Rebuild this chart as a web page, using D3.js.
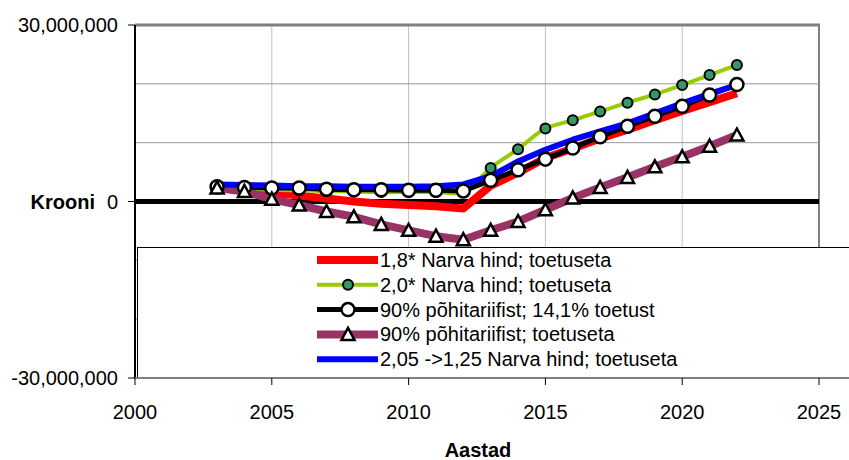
<!DOCTYPE html>
<html>
<head>
<meta charset="utf-8">
<script src="https://cdn.jsdelivr.net/npm/d3@7"></script>
<style>
  body { margin: 0; background: #fff; }
  svg text { font-family: "Liberation Sans", Arial, sans-serif; }
</style>
</head>
<body>
<div id="chart"></div>
<script>
// values in millions of kroons
var years = [2003, 2004, 2005, 2006, 2007, 2008, 2009, 2010, 2011, 2012,
             2013, 2014, 2015, 2016, 2017, 2018, 2019, 2020, 2021, 2022];

var narva18 = [2.3, 2.0, 1.5, 1.0, 0.5, 0.0, -0.4, -0.6, -0.8, -1.2,
               2.7, 4.9, 7.4, 9.0, 10.7, 12.2, 13.8, 15.4, 16.9, 18.4];
var narva20 = [2.4, 2.2, 2.0, 1.9, 1.8, 1.7, 1.6, 1.6, 1.6, 1.6,
               5.7, 8.9, 12.4, 13.8, 15.3, 16.8, 18.2, 19.8, 21.5, 23.2];
var pohi141 = [2.5, 2.4, 2.3, 2.3, 2.1, 2.0, 2.0, 1.9, 1.9, 1.8,
               3.6, 5.4, 7.2, 9.1, 11.0, 12.8, 14.5, 16.2, 18.1, 19.9];
var pohi0 = [2.3, 1.7, 0.4, -0.6, -1.7, -2.6, -3.9, -4.9, -5.9, -6.5,
             -4.9, -3.4, -1.4, 0.6, 2.4, 4.1, 5.9, 7.6, 9.4, 11.3];
var narva205 = [2.9, 2.8, 2.7, 2.6, 2.6, 2.5, 2.5, 2.5, 2.6, 2.9,
                4.3, 6.8, 8.8, 10.5, 11.9, 13.3, 15.0, 16.7, 18.3, 19.8];

var seriesNames = ["1,8* Narva hind; toetuseta", "2,0* Narva hind; toetuseta",
                   "90% põhitariifist; 14,1% toetust", "90% põhitariifist; toetuseta",
                   "2,05 ->1,25 Narva hind; toetuseta"];

var xTicks = [2000, 2005, 2010, 2015, 2020, 2025];
var yLabelTicks = [-30000000, 0, 30000000];
var yGridTicks = [-20000000, -10000000, 10000000, 20000000];

var width = 849, height = 460;
var pLeft = 135, pRight = 819, pTop = 25, pBottom = 378;

var series = [
  { name: seriesNames[0], values: narva18, color: "#ff0000", width: 8, marker: null },
  { name: seriesNames[1], values: narva20, color: "#99cc00", width: 4, marker: "dot", smooth: true },
  { name: seriesNames[2], values: pohi141, color: "#000000", width: 5, marker: "circle" },
  { name: seriesNames[3], values: pohi0, color: "#993366", width: 8, marker: "triangle" },
  { name: seriesNames[4], values: narva205, color: "#0000ff", width: 6, marker: null }
];

var x = d3.scaleLinear().domain([2000, 2025]).range([pLeft, pRight]);
var y = d3.scaleLinear().domain([-30000000, 30000000]).range([pBottom, pTop]);
var fmt = d3.formatLocale({ decimal: ".", thousands: ",", grouping: [3], currency: ["", ""], minus: "-" }).format(",");

var svg = d3.select("#chart").append("svg")
    .attr("width", width)
    .attr("height", height);

// grid
svg.append("g").selectAll("line")
    .data(xTicks.slice(1, -1))
  .enter().append("line")
    .attr("x1", function(d) { return x(d); })
    .attr("x2", function(d) { return x(d); })
    .attr("y1", pTop).attr("y2", pBottom)
    .attr("stroke", "#c0c0c0").attr("stroke-width", 1);

svg.append("g").selectAll("line")
    .data(yGridTicks)
  .enter().append("line")
    .attr("x1", pLeft).attr("x2", pRight)
    .attr("y1", function(d) { return y(d); })
    .attr("y2", function(d) { return y(d); })
    .attr("stroke", "#999999").attr("stroke-width", 1);

// frame
svg.append("line").attr("x1", pLeft).attr("x2", pRight + 1).attr("y1", pTop).attr("y2", pTop)
    .attr("stroke", "#808080").attr("stroke-width", 3);
svg.append("line").attr("x1", pRight).attr("x2", pRight).attr("y1", pTop).attr("y2", pBottom)
    .attr("stroke", "#808080").attr("stroke-width", 2);

// zero line
svg.append("line").attr("x1", pLeft).attr("x2", pRight)
    .attr("y1", y(0)).attr("y2", y(0))
    .attr("stroke", "#000").attr("stroke-width", 5);

// lines
var plot = svg.append("g");
series.forEach(function(s) {
  var line = d3.line()
      .x(function(d, i) { return x(years[i]); })
      .y(function(d) { return y(d * 1e6); })
      .curve(s.smooth ? d3.curveCatmullRom : d3.curveLinear);
  plot.append("path")
      .datum(s.values)
      .attr("d", line)
      .attr("fill", "none")
      .attr("stroke", s.color)
      .attr("stroke-width", s.width)
      .attr("stroke-linejoin", "round");
});

function drawMarker(g, type, cx, cy) {
  if (type === "dot") {
    g.append("circle").attr("cx", cx).attr("cy", cy).attr("r", 5)
        .attr("fill", "#339966").attr("stroke", "#000").attr("stroke-width", 2);
  } else if (type === "circle") {
    g.append("circle").attr("cx", cx).attr("cy", cy).attr("r", 6.5)
        .attr("fill", "#fff").attr("stroke", "#000").attr("stroke-width", 2.5);
  } else if (type === "triangle") {
    g.append("path")
        .attr("d", "M" + cx + "," + (cy - 6.5) + "L" + (cx + 6.5) + "," + (cy + 5.5) +
                   "L" + (cx - 6.5) + "," + (cy + 5.5) + "Z")
        .attr("fill", "#fff").attr("stroke", "#000").attr("stroke-width", 2.5)
        .attr("stroke-linejoin", "miter");
  }
}

series.forEach(function(s) {
  if (!s.marker) return;
  var g = plot.append("g");
  s.values.forEach(function(v, i) {
    drawMarker(g, s.marker, x(years[i]), y(v * 1e6));
  });
});

// left axis
svg.append("line").attr("x1", pLeft).attr("x2", pLeft).attr("y1", pTop).attr("y2", pBottom + 1)
    .attr("stroke", "#000").attr("stroke-width", 2);
svg.append("g").selectAll("line")
    .data(yLabelTicks)
  .enter().append("line")
    .attr("x1", pLeft - 7).attr("x2", pLeft)
    .attr("y1", function(d) { return y(d); })
    .attr("y2", function(d) { return y(d); })
    .attr("stroke", "#000").attr("stroke-width", 1);
svg.append("g").selectAll("text")
    .data(yLabelTicks)
  .enter().append("text")
    .attr("x", pLeft - 17)
    .attr("y", function(d) { return y(d); })
    .attr("dy", "0.35em")
    .attr("text-anchor", "end")
    .attr("font-size", 20)
    .text(function(d) { return fmt(d); });

svg.append("text")
    .attr("x", 95).attr("y", y(0)).attr("dy", "0.35em")
    .attr("text-anchor", "end")
    .attr("font-size", 20).attr("font-weight", "bold")
    .text("Krooni");

// legend
var lg = svg.append("g");
lg.append("rect")
    .attr("x", 137.5).attr("y", 247.5)
    .attr("width", 730).attr("height", pBottom - 247.5)
    .attr("fill", "#fff").attr("stroke", "#000").attr("stroke-width", 1);

series.forEach(function(s, i) {
  var ly = 260 + i * 24.8;
  lg.append("line")
      .attr("x1", 317).attr("x2", 378)
      .attr("y1", ly).attr("y2", ly)
      .attr("stroke", s.color).attr("stroke-width", s.width);
  if (s.marker) drawMarker(lg, s.marker, 348, ly);
  lg.append("text")
      .attr("x", 380).attr("y", ly).attr("dy", "0.35em")
      .attr("font-size", 20)
      .text(s.name);
});

// bottom axis
svg.append("line").attr("x1", pLeft).attr("x2", pRight + 1).attr("y1", pBottom).attr("y2", pBottom)
    .attr("stroke", "#808080").attr("stroke-width", 2);
svg.append("g").selectAll("line")
    .data(xTicks)
  .enter().append("line")
    .attr("x1", function(d) { return x(d); })
    .attr("x2", function(d) { return x(d); })
    .attr("y1", pBottom).attr("y2", pBottom + 7)
    .attr("stroke", "#000").attr("stroke-width", 1);
svg.append("g").selectAll("text")
    .data(xTicks)
  .enter().append("text")
    .attr("x", function(d) { return x(d); })
    .attr("y", 412).attr("dy", "0.35em")
    .attr("text-anchor", "middle")
    .attr("font-size", 20)
    .text(function(d) { return d; });

svg.append("text")
    .attr("x", 478).attr("y", 450).attr("dy", "0.35em")
    .attr("text-anchor", "middle")
    .attr("font-size", 20).attr("font-weight", "bold")
    .text("Aastad");
</script>
</body>
</html>
